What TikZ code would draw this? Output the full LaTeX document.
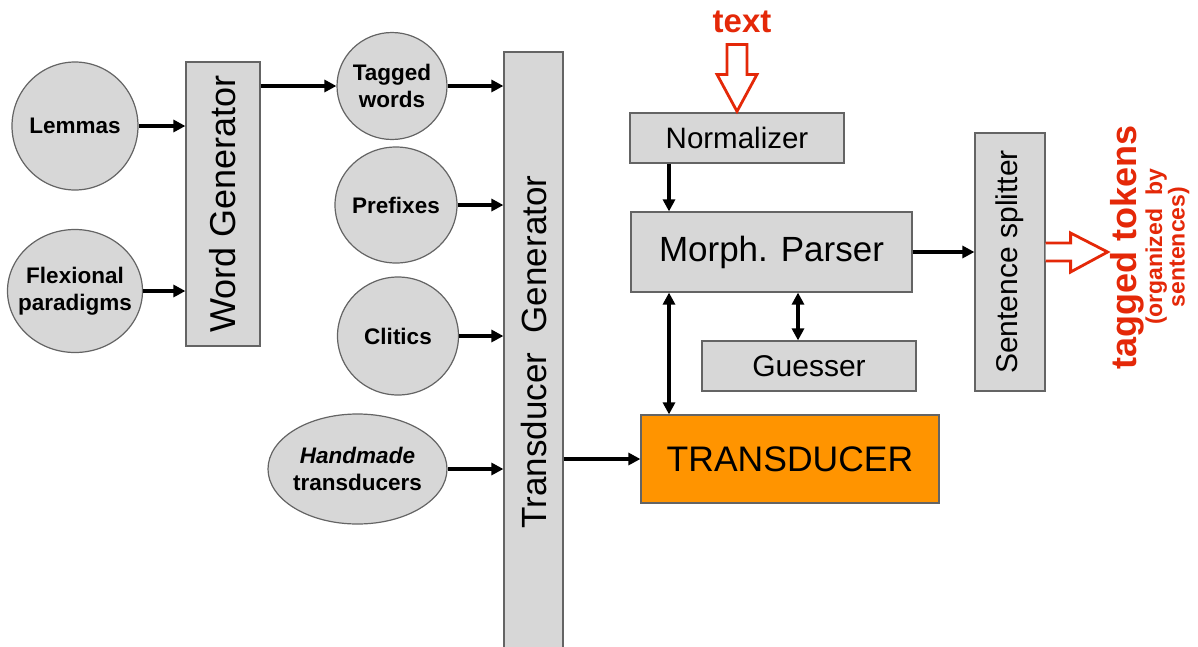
\documentclass[tikz,border=0pt]{standalone}
\usepackage{fontspec}
\setmainfont{Liberation Sans}
\usetikzlibrary{arrows.meta,shapes.geometric,calc}
\definecolor{boxgray}{RGB}{215,215,215}
\definecolor{edgegray}{RGB}{100,100,100}
\definecolor{xorange}{RGB}{255,148,0}
\definecolor{xred}{RGB}{228,40,8}

\begin{document}
\begin{tikzpicture}[x=1pt,y=-1pt,
  disc/.style={ellipse, draw=edgegray, line width=1.2pt, fill=boxgray, inner sep=0pt},
  disctext/.style={font=\fontsize{22.5}{26.5}\selectfont\bfseries, align=center, inner sep=0pt},
  stage/.style={rectangle, draw=edgegray, line width=1.2pt, fill=boxgray, inner sep=0pt},
  conn/.style={line width=3.4pt, -{Triangle[length=12pt,width=12pt]}},
  biconn/.style={line width=3.4pt, {Triangle[length=12pt,width=12pt]}-{Triangle[length=12pt,width=12pt]}},
  hollow/.style={draw=xred, line width=2.8pt, fill=white, line join=miter}
]
\useasboundingbox (0,0) rectangle (1198,646);
\clip (0,0) rectangle (1198,646);

% --- lexical resources ---
\node[disc, minimum width=126pt, minimum height=128pt,
      label={[disctext]center:Lemmas}] (lem) at (75,126) {};
\node[disc, minimum width=135pt, minimum height=123pt,
      label={[disctext]center:{Flexional\\paradigms}}] (flex) at (75,291) {};

\node[stage, minimum width=74pt, minimum height=284pt] (wg) at (223,204)
  {\fontsize{36}{36}\selectfont\rotatebox{90}{Word Generator}};

\node[disc, minimum width=110pt, minimum height=107pt,
      label={[disctext]center:{Tagged\\words}}] (tw) at (392,86) {};
\node[disc, minimum width=122pt, minimum height=116pt,
      label={[disctext]center:Prefixes}] (pre) at (396,205) {};
\node[disc, minimum width=121pt, minimum height=118pt,
      label={[disctext]center:Clitics}] (cli) at (398,336) {};
\node[disc, minimum width=179pt, minimum height=110pt,
      label={[disctext]center:{\itshape Handmade\\transducers}}] (hand) at (357.5,469) {};

\node[stage, minimum width=59pt, minimum height=600pt] (tg) at (533.5,352)
  {\fontsize{35}{35}\selectfont\rotatebox{90}{Transducer\ \ Generator}};

% --- analysis pipeline ---
\node[stage, minimum width=214pt, minimum height=50pt,
      font=\fontsize{29.5}{30}\selectfont] (norm) at (737,138) {Normalizer};
\node[stage, minimum width=281pt, minimum height=80pt,
      font=\fontsize{35}{35}\selectfont] (morph) at (771.5,252) {Morph. Parser};
\node[stage, minimum width=214pt, minimum height=50pt,
      font=\fontsize{30}{30}\selectfont] (guess) at (809,366) {Guesser};
\node[stage, fill=xorange, minimum width=298pt, minimum height=88pt,
      font=\fontsize{35.5}{36}\selectfont] (trans) at (790,459) {TRANSDUCER};
\node[stage, minimum width=70pt, minimum height=258pt] (ss) at (1010,262)
  {\fontsize{30}{30}\selectfont\rotatebox{90}{Sentence splitter}};

\node[text=xred, font=\fontsize{33}{33}\selectfont\bfseries, inner sep=0pt] (txt) at (742,22) {text};
\node[text=xred, font=\bfseries, rotate=90, align=center, inner sep=0pt] (out) at (1150,247)
  {\fontsize{36}{34}\selectfont tagged tokens\\
   \fontsize{23}{28}\selectfont (organized\ \ by\\
   \fontsize{23}{28}\selectfont sentences)};

% vertical lanes used by the parser connectors
\coordinate (lane) at (669,0);
\coordinate (glane) at (798,0);

% --- connectors ---
\draw[conn] (lem.east) -- (lem.east -| wg.west);
\draw[conn] (flex.east) -- (flex.east -| wg.west);
\draw[conn] (tw.west -| wg.east) -- (tw.west);
\draw[conn] (tw.east) -- (tw.east -| tg.west);
\draw[conn] (pre.east) -- (pre.east -| tg.west);
\draw[conn] (cli.east) -- (cli.east -| tg.west);
\draw[conn] (hand.east) -- (hand.east -| tg.west);
\draw[conn] (trans.west -| tg.east) -- (trans.west);
\draw[conn] (lane |- norm.south) -- (lane |- morph.north);
\draw[biconn] (lane |- morph.south) -- (lane |- trans.north);
\draw[biconn] (glane |- morph.south) -- (glane |- guess.north);
\draw[conn] (morph.east) -- (morph.east -| ss.west);

% --- hollow input / output arrows ---
\draw[hollow, shift={(norm.north)}]
  (-10,-68) -- (10,-68) -- (10,-38) -- (20,-38) -- (0,-1) -- (-20,-38) -- (-10,-38) -- cycle;
\draw[hollow, shift={(ss.east)}]
  (0,-19) -- (25,-19) -- (25,-29) -- (62,-10) -- (25,10) -- (25,-1) -- (0,-1);
\end{tikzpicture}
\end{document}
